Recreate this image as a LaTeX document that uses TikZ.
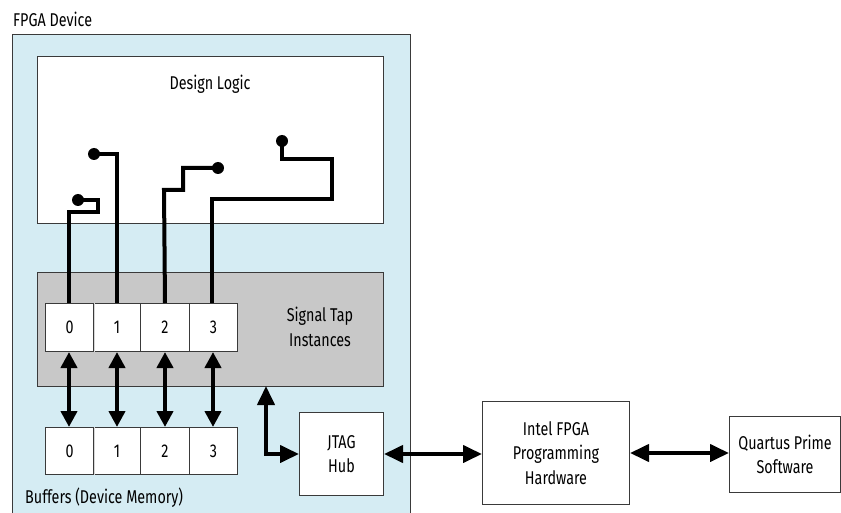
\documentclass[tikz,border=0pt]{standalone}
\usepackage{fontspec}
\setmainfont{Fira Sans}[FakeStretch=0.775]
\usetikzlibrary{arrows.meta}
\definecolor{fpgablue}{HTML}{D5ECF3}
\definecolor{tapgray}{HTML}{C8C8C8}
\definecolor{edge}{HTML}{3A3A3A}
\tikzset{
  box/.style={draw=edge, line width=1pt, fill=white, inner sep=0pt, align=center, anchor=north west},
  cellbox/.style={draw=edge, line width=1pt, fill=white, inner sep=0pt, minimum height=48pt, anchor=north west},
  wire/.style={line width=4pt, line join=miter},
  dbl/.style={line width=4pt, {Triangle[length=16pt,width=16pt]}-{Triangle[length=16pt,width=16pt]}},
  dblbig/.style={line width=4pt, {Triangle[length=19pt,width=17pt]}-{Triangle[length=19pt,width=17pt]}},
  dot/.style={circle, fill=black, inner sep=0pt, minimum size=12pt},
  txt/.style={inner sep=0pt, align=center}
}
\begin{document}
\begin{tikzpicture}[x=1pt,y=-1pt, font=\fontsize{18.5}{24.5}\selectfont]
\useasboundingbox (0,0) rectangle (841,513);
% outer FPGA device
\node[box, fill=fpgablue, line width=1.2pt, minimum width=398pt, minimum height=490pt] (fpga) at (12,34) {};
\node[txt, anchor=base west] (fpgalbl) at (13,26.7) {FPGA Device};
% design logic
\node[box, minimum width=346pt, minimum height=167pt] (dl) at (37,56) {};
\node[txt, anchor=base] (dllbl) at (210,89.5) {Design Logic};
% signal tap
\node[box, fill=tapgray, minimum width=346pt, minimum height=114pt] (tap) at (37,272) {};
\node[txt] (taplbl) at (320,327) {Signal Tap\\Instances};
% instance cells
\node[cellbox, minimum width=48pt] (i0) at (45,303) {0};
\node[cellbox, minimum width=47pt] (i1) at (93,303) {1};
\node[cellbox, minimum width=49pt] (i2) at (140,303) {2};
\node[cellbox, minimum width=48pt] (i3) at (189,303) {3};
\draw[white!80!edge, line width=1pt] (i0.north east) -- (i0.south east);
% buffer cells
\node[cellbox, minimum width=48pt, minimum height=47pt] (b0) at (45,427) {0};
\node[cellbox, minimum width=47pt, minimum height=47pt] (b1) at (93,427) {1};
\node[cellbox, minimum width=49pt, minimum height=47pt] (b2) at (140,427) {2};
\node[cellbox, minimum width=48pt, minimum height=47pt] (b3) at (189,427) {3};
\draw[white!80!edge, line width=1pt] (b0.north east) -- (b0.south east);
\node[txt, anchor=base west] (buflbl) at (25,503) {Buffers (Device Memory)};
% JTAG hub and external boxes
\node[box, minimum width=84pt, minimum height=83pt] (jtag) at (299,412) {JTAG\\Hub};
\node[box, minimum width=147pt, minimum height=103pt] (intel) at (482,401) {Intel FPGA\\Programming\\Hardware};
\node[box, minimum width=111pt, minimum height=76pt] (quartus) at (729,416) {Quartus Prime\\Software};
% probe dots
\node[dot] (d0) at (78,200) {};
\node[dot] (d1) at (94,154) {};
\node[dot] (d2) at (218,168) {};
\node[dot] (d3) at (282,141) {};
% wires
\draw[wire] (d0.center) -- (98,200) -- (98,212) -- (69,212) -- (69,303);
\draw[wire] (d1.center) -- (117,154) -- (i1.north);
\draw[wire] (d2.center) -- (183,168) -- (183,190) -- (164,190) -- (i2.north);
\draw[wire] (d3.center) -- (282,159) -- (332,159) -- (332,199) -- (212,199) -- (212,303);
% arrows between instance and buffer rows
\draw[dbl] (69,352) -- (69,427);
\draw[dbl] (i1.south) -- (b1.north);
\draw[dbl] (i2.south) -- (b2.north);
\draw[dbl] (213,352) -- (213,427);
% tap <-> jtag
\coordinate (tapjt) at (266,386);
\draw[dblbig] (tapjt) |- (jtag.west);
\draw[dblbig] (jtag.east) -- (intel.west |- jtag.east);
\draw[dblbig] (intel.east) -- (quartus.west |- intel.east);
\end{tikzpicture}
\end{document}
